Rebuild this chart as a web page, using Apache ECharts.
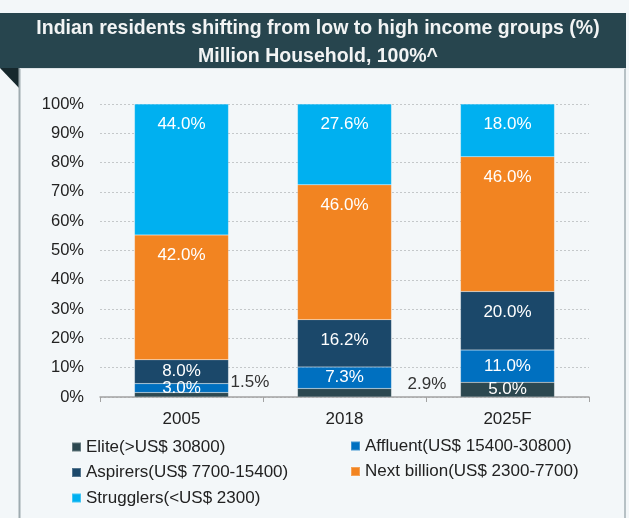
<!DOCTYPE html>
<html>
<head>
<meta charset="utf-8">
<script src="https://cdn.jsdelivr.net/npm/echarts@6/dist/echarts.min.js"></script>
<style>
html,body{margin:0;padding:0;background:#f3f7f9;}
#c{width:629px;height:518px;}
</style>
</head>
<body>
<div id="c"></div>
<script>
// ---- data ----
const categories = ['2005', '2018', '2025F'];
const seriesNames = [
  'Elite(>US$ 30800)',
  'Affluent(US$ 15400-30800)',
  'Aspirers(US$ 7700-15400)',
  'Next billion(US$ 2300-7700)',
  'Strugglers(<US$ 2300)'
];
const elite = [1.5, 2.9, 5.0];
const affluent = [3.0, 7.3, 11.0];
const aspirers = [8.0, 16.2, 20.0];
const nextBillion = [42.0, 46.0, 46.0];
const strugglers = [44.0, 27.6, 18.0];
const yTicks = [0, 10, 20, 30, 40, 50, 60, 70, 80, 90, 100];

// ---- build ----
const values = [elite, affluent, aspirers, nextBillion, strugglers];
const colors = ['#2c4850', '#0070c0', '#1b486a', '#f28421', '#00b0f0'];
const totals = categories.map((_, i) => values.reduce((s, arr) => s + arr[i], 0));
const FONT = '"Liberation Sans", Arial, sans-serif';

// outside label tweaks for the tiny Elite segments
const outsideLabel = {
  0: { distance: 2, offset: [0, -12] },
  1: { distance: 16, offset: [0, -8] }
};

const series = values.map((arr, si) => ({
  name: seriesNames[si],
  type: 'bar',
  stack: 'total',
  barWidth: 94,
  itemStyle: { color: colors[si], borderColor: 'rgba(255,255,255,0.25)', borderWidth: 0.5 },
  data: arr.map((v, ci) => {
    const share = v / totals[ci] * 100;
    let label;
    if (si === 0 && outsideLabel[ci]) {
      label = { position: 'right', color: '#333', distance: outsideLabel[ci].distance, offset: outsideLabel[ci].offset };
    } else if (share < 14) {
      label = { position: 'inside' };
    } else {
      label = { position: 'insideTop', distance: 12 };
    }
    return { value: share, raw: v, label: label };
  }),
  label: {
    show: true,
    color: '#ffffff',
    fontFamily: FONT,
    fontSize: 17,
    formatter: p => p.data.raw.toFixed(1) + '%'
  }
}));

const legendText = { color: '#222', fontSize: 17, fontFamily: FONT, lineHeight: 16 };

const chart = echarts.init(document.getElementById('c'), null, { renderer: 'canvas' });
chart.setOption({
  backgroundColor: '#f3f7f9',
  animation: false,
  textStyle: { fontFamily: FONT },
  title: {
    text: 'Indian residents shifting from low to high income groups (%)\nMillion Household, 100%^',
    left: 313,
    textAlign: 'center',
    top: 10,
    textStyle: { color: '#f2f4f4', fontFamily: FONT, fontWeight: 'bold', fontSize: 19.5, lineHeight: 28 }
  },
  graphic: [
    { type: 'rect', z: 0, shape: { x: 0, y: 13, width: 626, height: 55 }, style: { fill: '#27454e' } },
    { type: 'polygon', z: 0, shape: { points: [[0, 68], [20, 68], [20, 89]] }, style: { fill: '#16282d' } },
    { type: 'line', z: 0, shape: { x1: 19.5, y1: 68, x2: 19.5, y2: 518 }, style: { stroke: '#9fabb0', lineWidth: 2 } },
    { type: 'line', z: 0, shape: { x1: 625, y1: 68, x2: 625, y2: 518 }, style: { stroke: '#b7c1c5', lineWidth: 2 } },
    { type: 'line', z: 0, shape: { x1: 20, y1: 68.5, x2: 625, y2: 68.5 }, style: { stroke: '#dde3e6', lineWidth: 1 } }
  ],
  legend: [
    {
      data: [seriesNames[0], seriesNames[2], seriesNames[4]],
      orient: 'vertical', left: 66, top: 433.5,
      itemWidth: 9, itemHeight: 9, itemGap: 8.5, icon: 'rect',
      textStyle: legendText
    },
    {
      data: [seriesNames[1], seriesNames[3]],
      orient: 'vertical', left: 345, top: 432.5,
      itemWidth: 9, itemHeight: 9, itemGap: 8.5, icon: 'rect',
      textStyle: legendText
    }
  ],
  grid: { left: 100, right: 40, top: 104, bottom: 121, containLabel: false },
  xAxis: {
    type: 'category',
    data: categories,
    axisLine: { lineStyle: { color: '#a3a3a3', width: 1.5 } },
    axisTick: { show: true, length: 5, lineStyle: { color: '#a3a3a3' } },
    axisLabel: { color: '#222', fontSize: 17, fontFamily: FONT, margin: 14 }
  },
  yAxis: {
    type: 'value',
    min: yTicks[0], max: yTicks[yTicks.length - 1], interval: yTicks[1] - yTicks[0],
    axisLine: { show: false },
    axisTick: { show: false },
    axisLabel: { color: '#222', fontSize: 16.5, fontFamily: FONT, margin: 16, formatter: '{value}%' },
    splitLine: { lineStyle: { color: '#c4c8ca', type: [2, 2], width: 1 } }
  },
  series: series
});
</script>
</body>
</html>
